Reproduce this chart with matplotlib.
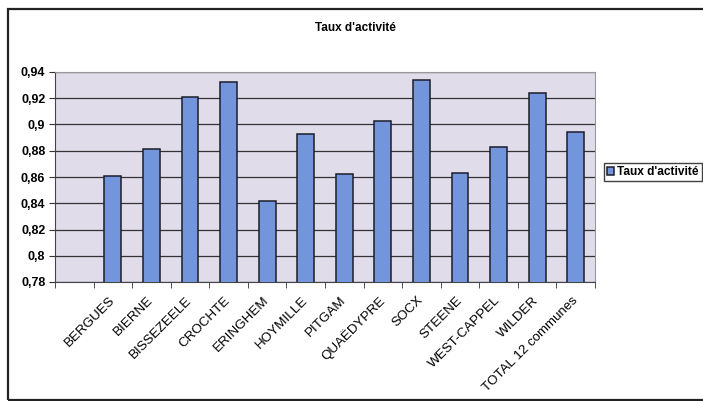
import numpy as np
import matplotlib.pyplot as plt
from matplotlib.patches import Rectangle

plt.rcParams['font.family'] = ['Liberation Sans', 'DejaVu Sans']

# first slot is left empty, as in the spreadsheet
communes = ['', 'BERGUES', 'BIERNE', 'BISSEZEELE', 'CROCHTE', 'ERINGHEM', 'HOYMILLE',
            'PITGAM', 'QUAËDYPRE', 'SOCX', 'STEENE', 'WEST-CAPPEL', 'WILDER',
            'TOTAL 12 communes']
taux = [np.nan, 0.861, 0.881, 0.921, 0.932, 0.842, 0.893, 0.862, 0.903, 0.934,
        0.863, 0.883, 0.924, 0.894]
y_ticks = [0.78, 0.80, 0.82, 0.84, 0.86, 0.88, 0.90, 0.92, 0.94]

W, H = 703, 401
fig = plt.figure(figsize=(W / 100, H / 100), dpi=100)
fig.patch.set_facecolor('white')

# chart frame
fig.patches.append(Rectangle((8 / W, 1 / H), 1.0, 391 / H, transform=fig.transFigure,
                             fill=False, edgecolor='#222222', linewidth=1.6))

ax = fig.add_axes([55 / W, 1 - 282 / H, 540 / W, 210 / H])
ax.set_facecolor('#e0dcea')

x = np.arange(len(communes))
ax.bar(x, taux, width=0.44, color='#7395dc', edgecolor='#1c1c2a', linewidth=1.1,
       label="Taux d'activité", zorder=3)

ax.set_ylim(0.78, 0.94)
ax.set_yticks(y_ticks)
ax.set_yticklabels([('%g' % v).replace('.', ',') for v in y_ticks],
                   fontsize=9, fontweight='bold')
ax.yaxis.grid(True, color='#333333', linewidth=0.9, zorder=1)

ax.set_xlim(-0.5, len(communes) - 0.5)
ax.set_xticks(x)
ax.set_xticklabels(communes, rotation=45, ha='right', va='center',
                   rotation_mode='anchor', fontsize=9.6)
ax.tick_params(axis='x', length=0, pad=12)
ax.set_xticks(np.arange(len(communes) + 1) - 0.5, minor=True)
ax.tick_params(axis='x', which='minor', length=4, color='#333333')
ax.tick_params(axis='y', length=4, color='#333333', pad=3)

for side in ['top', 'right']:
    ax.spines[side].set_color('#999999')
    ax.spines[side].set_linewidth(0.8)
for side in ['left', 'bottom']:
    ax.spines[side].set_color('#444444')

fig.text(355 / W, 1 - 28 / H, "Taux d'activité", ha='center', va='center',
         fontsize=8.5, fontweight='bold')

leg = ax.legend(loc='center left', bbox_to_anchor=(604 / W, 1 - 172 / H),
                bbox_transform=fig.transFigure, frameon=True, fancybox=False,
                prop={'size': 8.6, 'weight': 'bold'}, handlelength=0.6,
                handleheight=0.6, handletextpad=0.25, borderpad=0.25,
                borderaxespad=0)
leg.get_frame().set_edgecolor('#111111')
leg.get_frame().set_linewidth(1.0)

fig.savefig('out.png', dpi=100)
